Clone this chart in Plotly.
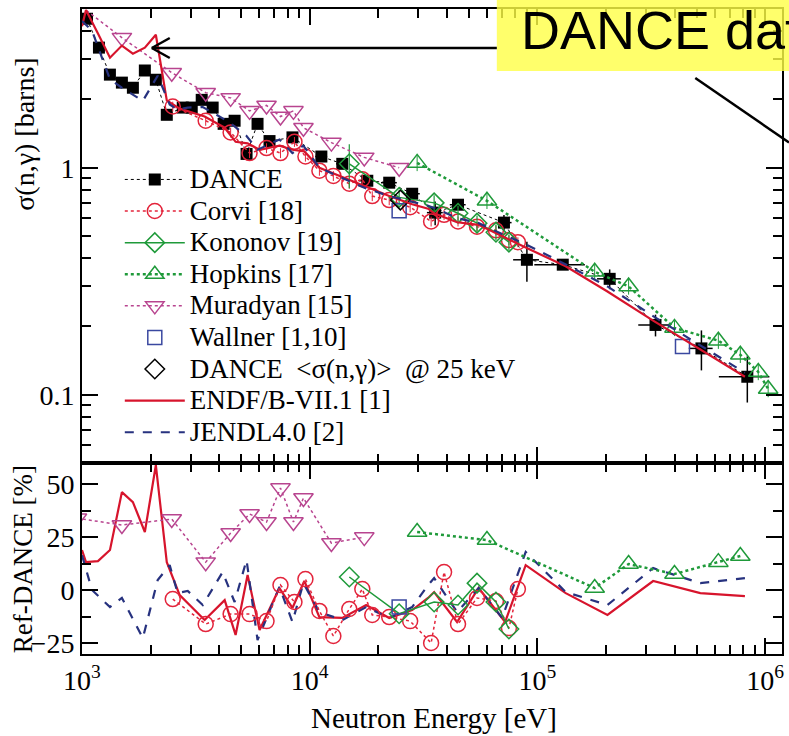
import plotly.graph_objects as go
from plotly.subplots import make_subplots

# ---------------- data ----------------
dance_E = [1052, 1187, 1326, 1497, 1673, 1888, 2110, 2357, 2770, 3033, 3355, 3748, 4188, 4679, 5280,
           5900, 6660, 8400, 11250, 13900, 17900, 22340, 28180, 35550, 44800, 71280, 89900, 129200,
           207600, 330000, 525000, 835000]
dance_sigma = [4.53, 3.38, 2.57, 2.37, 2.25, 2.68, 2.44, 1.71, 1.84, 1.84, 1.99, 1.84, 1.56, 1.61, 1.15,
               1.56, 1.31, 1.36, 1.12, 1.04, 0.876, 0.859, 0.768, 0.634, 0.687, 0.573, 0.393, 0.374,
               0.324, 0.203, 0.160, 0.120]
dance_dy_pct = [3, 3, 3, 3, 3, 3, 3, 3, 3, 3, 3, 3, 3, 3, 3, 3, 3, 3, 3, 3, 5, 5, 5, 12, 5, 8, 20, 5,
                10, 11, 20, 23]
dance_dx_pct = [3, 3, 3, 3, 3, 3, 3, 3, 4, 4, 4, 4, 4, 4, 4, 4, 4, 5, 6, 6, 8, 8, 8, 8, 8, 8, 13, 25,
                12, 16, 12, 25]

corvi_E = [2503, 3493, 4495, 5443, 6461, 7441, 8570, 9576, 11030, 12700, 14920, 17020, 18820, 22340,
           27610, 34130, 38900, 44800, 54280, 65740, 74960, 82060]
corvi_sigma = [1.86, 1.61, 1.43, 1.16, 1.22, 1.16, 1.30, 1.12, 0.97, 0.92, 0.85, 0.89, 0.75, 0.72,
               0.67, 0.58, 0.62, 0.58, 0.55, 0.53, 0.48, 0.47]
corvi_res = [-4.1, -15.9, -11.2, -11.2, -14.5, 2.5, -5.5, 5.3, -9.7, -21.5, -8.8, 0.6, -11.6, -12.6,
             -14.5, -24.8, 8.6, -15.9, -3.6, -5.0, -17.8, 0.6]

kon_E = [14920, 24700, 35180, 44800, 54280, 65740, 74960]
kon_sigma = [1.04, 0.74, 0.70, 0.63, 0.57, 0.52, 0.47]
kon_dy_pct = [22, 8, 8, 8, 8, 8, 8]
kon_res = [6.3, -11.0, -5.5, -6.9, 3.4, -5.5, -18.2]

hop_E = [29630, 60030, 178400, 251400, 399800, 623000, 778000, 932900, 1031000]
hop_sigma = [1.05, 0.715, 0.348, 0.30, 0.197, 0.173, 0.150, 0.126, 0.106]
hop_res = [27.5, 23.7, 1.1, 12.4, 7.7, 13.3, 16.2]

mur_E = [950, 1497, 2478, 3493, 4495, 5443, 6461, 7441, 8483, 9385, 12450, 17360, 24710]
mur_sigma = [5.3, 3.74, 2.62, 2.14, 2.03, 1.78, 1.88, 1.68, 1.78, 1.50, 1.29, 1.11, 1.0]
mur_res = [34, 30.8, 33.6, 13.3, 27, 36, 32.2, 48.2, 32.2, 43.5, 22.3, 25.1]

wal_E = [24700, 433500]
wal_sigma = [0.647, 0.163]
wal_res = [-7.9]

d25_E = [25000]
d25_sigma = [0.72]

endf_E = [1000, 1041, 1175, 1327, 1497, 1673, 1888, 2110, 2357, 2685, 3455, 4232, 4727, 5336, 6024,
          7362, 8397, 9471, 11030, 13900, 17700, 22340, 28180, 33100, 35180, 44380, 55200, 72160,
          88800, 133100, 203000, 322200, 519000, 815000]
endf_sigma = [4.2, 4.95, 3.9, 3.05, 3.45, 3.18, 3.38, 3.85, 1.98, 1.82, 1.68, 1.50, 1.30, 1.28, 1.20,
              1.25, 1.20, 1.18, 1.00, 0.91, 0.82, 0.75, 0.69, 0.66, 0.63, 0.575, 0.56, 0.49, 0.445,
              0.368, 0.285, 0.212, 0.158, 0.12]
endf_res = [19, 13.3, 13.8, 19, 46.3, 41.6, 27.5, 59, 13.3, -2.2, -14, -4.6, -21, 7.2, -18.7, 1.1,
            -8.3, 4.4, -12.6, -13, -6.9, -13, -9.3, -3.6, -0.8, -14.9, 1.1, -14.9, 11.9, -1.3, -11.6,
            4.4, -1.3, -2.7]

jendl_E = [1000, 1106, 1327, 1497, 1850, 2150, 2427, 2630, 2914, 3391, 4146, 4679, 5280, 5900, 7362,
           8397, 9377, 11030, 13900, 17700, 22340, 28180, 33100, 35180, 44380, 55200, 69960, 88800,
           133100, 203000, 322200, 519000, 815000]
jendl_sigma = [4.43, 4.02, 2.45, 2.25, 1.97, 2.54, 1.9, 1.8, 1.84, 1.85, 1.65, 1.52, 1.38, 1.2, 1.33,
               1.16, 1.25, 1.0, 0.9, 0.81, 0.75, 0.71, 0.68, 0.665, 0.60, 0.57, 0.51, 0.46, 0.375,
               0.30, 0.222, 0.165, 0.125]
jendl_res = [16.6, 0.2, -7.9, -3.6, -22.5, 4.9, 11.9, -1.3, -0.3, -6.9, 8.6, -5.5, 14.3, -23.4, 1.6,
             -14.9, 3.4, -10.2, -14, -7.9, -13, -7.9, 2.5, 5.8, -10.2, 1.1, -13, 18.1, -0.8, -6.9,
             10.5, 3.4, 5.8]

x_major = [1e3, 1e4, 1e5, 1e6]
x_major_text = ["10<sup>3</sup>", "10<sup>4</sup>", "10<sup>5</sup>", "10<sup>6</sup>"]
y_major = [0.1, 1]
y_major_text = ["0.1", "1"]
res_major = [-25, 0, 25, 50]
res_minor = [-12.5, 12.5, 37.5]

# ---------------- styles ----------------
C_BLACK = "black"
C_CORVI = "#e3243b"
C_GREEN = "#1f9a3a"
C_MUR = "#b8448f"
C_WAL = "#3a48a0"
C_ENDF = "#d7142c"
C_JENDL = "#27327f"
SERIF = "Liberation Serif"


def lg(name):
    # legend label drawn larger than the legend row pitch
    return '<span style="font-size:27px">' + name + '</span>'


fig = make_subplots(rows=2, cols=1, shared_xaxes=True, vertical_spacing=0,
                    row_heights=[0.704, 0.296])

def frac(vals, pct):
    return [v * p / 100.0 for v, p in zip(vals, pct)]

# ---- top panel ----
fig.add_trace(go.Scatter(
    x=dance_E, y=dance_sigma, name=lg("DANCE"), mode="lines+markers",
    line=dict(color=C_BLACK, width=1, dash="dot"),
    marker=dict(symbol="square", size=12, color=C_BLACK),
    error_y=dict(type="data", array=frac(dance_sigma, dance_dy_pct), color=C_BLACK, thickness=1.5, width=0),
    error_x=dict(type="data", array=frac(dance_E, dance_dx_pct), color=C_BLACK, thickness=1.5, width=0),
), row=1, col=1)
fig.add_trace(go.Scatter(
    x=corvi_E, y=corvi_sigma, name=lg("Corvi [18]"), mode="lines+markers",
    line=dict(color=C_CORVI, width=1.5, dash="dot"),
    marker=dict(symbol="circle-open", size=15, color=C_CORVI, line=dict(width=1.5)),
    error_y=dict(type="percent", value=5, color=C_CORVI, thickness=1, width=0),
), row=1, col=1)
fig.add_trace(go.Scatter(
    x=kon_E, y=kon_sigma, name=lg("Kononov [19]"), mode="lines+markers",
    line=dict(color=C_GREEN, width=1.5),
    marker=dict(symbol="diamond-open", size=15, color=C_GREEN, line=dict(width=1.5)),
    error_y=dict(type="data", array=frac(kon_sigma, kon_dy_pct), color=C_GREEN, thickness=1.2, width=0),
), row=1, col=1)
fig.add_trace(go.Scatter(
    x=hop_E, y=hop_sigma, name=lg("Hopkins [17]"), mode="lines+markers",
    line=dict(color=C_GREEN, width=2.5, dash="dot"),
    marker=dict(symbol="triangle-up-open", size=17, color=C_GREEN, line=dict(width=1.5)),
    error_y=dict(type="percent", value=8, color=C_GREEN, thickness=1, width=0),
), row=1, col=1)
fig.add_trace(go.Scatter(
    x=mur_E, y=mur_sigma, name=lg("Muradyan [15]"), mode="lines+markers",
    line=dict(color=C_MUR, width=1.5, dash="dot"),
    marker=dict(symbol="triangle-down-open", size=17, color=C_MUR, line=dict(width=1.5)),
), row=1, col=1)
fig.add_trace(go.Scatter(
    x=wal_E, y=wal_sigma, name=lg("Wallner [1,10]"), mode="markers",
    marker=dict(symbol="square-open", size=14, color=C_WAL, line=dict(width=1.5)),
), row=1, col=1)
fig.add_trace(go.Scatter(
    x=d25_E, y=d25_sigma, name=lg("DANCE  &lt;σ(n,γ)&gt;  @ 25 keV"), mode="markers",
    marker=dict(symbol="diamond-open", size=15, color=C_BLACK, line=dict(width=1.5)),
), row=1, col=1)
fig.add_trace(go.Scatter(
    x=endf_E, y=endf_sigma, name=lg("ENDF/B-VII.1 [1]"), mode="lines",
    line=dict(color=C_ENDF, width=2.2),
), row=1, col=1)
fig.add_trace(go.Scatter(
    x=jendl_E, y=jendl_sigma, name=lg("JENDL4.0 [2]"), mode="lines",
    line=dict(color=C_JENDL, width=2.2, dash="dash"),
), row=1, col=1)

# ---- bottom panel (residuals) ----
fig.add_trace(go.Scatter(x=endf_E, y=endf_res, mode="lines", showlegend=False,
                         line=dict(color=C_ENDF, width=2.2)), row=2, col=1)
fig.add_trace(go.Scatter(x=jendl_E, y=jendl_res, mode="lines", showlegend=False,
                         line=dict(color=C_JENDL, width=2.2, dash="dash")), row=2, col=1)
fig.add_trace(go.Scatter(x=mur_E[:len(mur_res)], y=mur_res, mode="lines+markers", showlegend=False,
                         line=dict(color=C_MUR, width=1.5, dash="dot"),
                         marker=dict(symbol="triangle-down-open", size=17, color=C_MUR, line=dict(width=1.5))),
              row=2, col=1)
fig.add_trace(go.Scatter(x=corvi_E, y=corvi_res, mode="lines+markers", showlegend=False,
                         line=dict(color=C_CORVI, width=1.5, dash="dot"),
                         marker=dict(symbol="circle-open", size=15, color=C_CORVI, line=dict(width=1.5))),
              row=2, col=1)
fig.add_trace(go.Scatter(x=kon_E, y=kon_res, mode="lines+markers", showlegend=False,
                         line=dict(color=C_GREEN, width=1.5),
                         marker=dict(symbol="diamond-open", size=15, color=C_GREEN, line=dict(width=1.5))),
              row=2, col=1)
fig.add_trace(go.Scatter(x=hop_E[:len(hop_res)], y=hop_res, mode="lines+markers", showlegend=False,
                         line=dict(color=C_GREEN, width=2.5, dash="dot"),
                         marker=dict(symbol="triangle-up-open", size=17, color=C_GREEN, line=dict(width=1.5))),
              row=2, col=1)
fig.add_trace(go.Scatter(x=wal_E[:len(wal_res)], y=wal_res, mode="markers", showlegend=False,
                         marker=dict(symbol="square-open", size=14, color=C_WAL, line=dict(width=1.5))),
              row=2, col=1)

# ---------------- axes ----------------
x_minor = [m * 10 ** k for k in (3, 4, 5) for m in range(2, 10)]
y_minor = [0.06, 0.07, 0.08, 0.09, 0.2, 0.3, 0.4, 0.5, 0.6, 0.7, 0.8, 0.9, 2, 3, 4, 5]

common = dict(showline=True, linewidth=2, linecolor="black", mirror="ticks", ticks="inside",
              tickwidth=1.5, tickcolor="black", ticklen=16, showgrid=False, zeroline=False,
              tickfont=dict(family=SERIF, size=28, color="black"))

fig.update_xaxes(type="log", range=[3, 6.074], tickmode="array", tickvals=x_major, ticktext=x_major_text,
                 minor=dict(tickmode="array", tickvals=x_minor, ticks="inside", ticklen=9, tickwidth=1.5,
                            tickcolor="black", showgrid=False),
                 **common)
fig.update_xaxes(showticklabels=False, row=1, col=1)
fig.update_yaxes(type="log", range=[-1.301, 0.699], tickmode="array", tickvals=y_major, ticktext=y_major_text,
                 minor=dict(tickmode="array", tickvals=y_minor, ticks="inside", ticklen=9, tickwidth=1.5,
                            tickcolor="black", showgrid=False),
                 row=1, col=1, **common)
fig.update_yaxes(range=[-30, 60], tickmode="array", tickvals=res_major,
                 minor=dict(tickmode="array", tickvals=res_minor, ticks="inside", ticklen=9, tickwidth=1.5,
                            tickcolor="black", showgrid=False),
                 row=2, col=1, **common)

# ---------------- titles / annotations ----------------
annotations = [
    dict(text="σ(n,γ) [barns]", x=0, xref="paper", xshift=-57, y=0.805, yref="paper",
         textangle=-90, showarrow=False, font=dict(family=SERIF, size=28, color="black"),
         xanchor="center", yanchor="middle"),
    dict(text="Ref-DANCE [%]", x=0, xref="paper", xshift=-59, y=0.147, yref="paper",
         textangle=-90, showarrow=False, font=dict(family=SERIF, size=27, color="black"),
         xanchor="center", yanchor="middle"),
    dict(text="Neutron Energy [eV]", x=0.503, xref="paper", y=0, yref="paper", yshift=-64,
         showarrow=False, font=dict(family=SERIF, size=29, color="black"),
         xanchor="center", yanchor="middle"),
    dict(text="DANCE data", x=0.624, xref="paper", y=0.968, yref="paper",
         showarrow=False, font=dict(family="Liberation Sans", size=54, color="black"),
         xanchor="left", yanchor="middle"),
]

shapes = [
    dict(type="rect", xref="paper", yref="paper", x0=0.5926, x1=1.05, y0=0.904, y1=1.05,
         fillcolor="rgba(255,255,70,0.8)", line=dict(width=0), layer="above"),
    dict(type="line", xref="paper", yref="paper", x0=0.0997, x1=0.5926, y0=0.9395, y1=0.9395,
         line=dict(color="black", width=2.5)),
    dict(type="line", xref="paper", yref="paper", x0=0.0997, x1=0.1254, y0=0.9395, y1=0.9550,
         line=dict(color="black", width=2.5)),
    dict(type="line", xref="paper", yref="paper", x0=0.0997, x1=0.1254, y0=0.9395, y1=0.9240,
         line=dict(color="black", width=2.5)),
    dict(type="line", xref="paper", yref="paper", x0=0.8761, x1=1.01, y0=0.8930, y1=0.7930,
         line=dict(color="black", width=2.5)),
]

fig.update_layout(
    width=789, height=736,
    margin=dict(l=82, r=5, t=9, b=82),
    paper_bgcolor="white", plot_bgcolor="white",
    font=dict(family=SERIF, size=22, color="black"),
    showlegend=True,
    legend=dict(x=0.054, y=0.768, xanchor="left", yanchor="top", bgcolor="rgba(0,0,0,0)",
                font=dict(family=SERIF, size=22, color="black"), itemwidth=60,
                tracegroupgap=0),
    annotations=annotations,
    shapes=shapes,
)

fig.write_html("out.html")
